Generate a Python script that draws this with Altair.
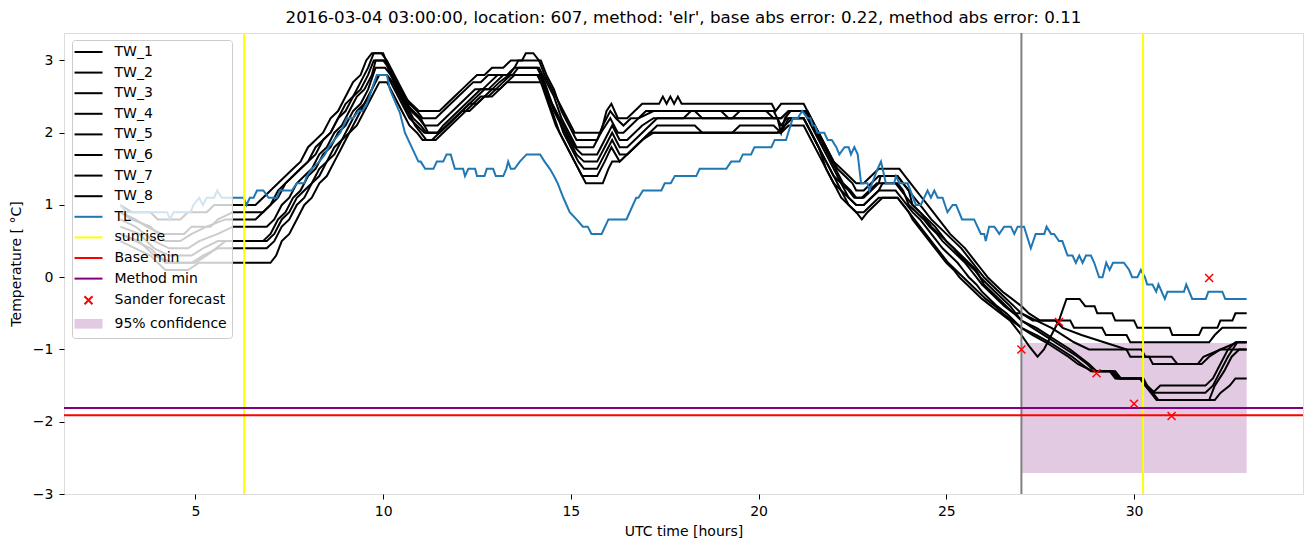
import altair as alt
import pandas as pd

TITLE = "2016-03-04 03:00:00, location: 607, method: 'elr', base abs error: 0.22, method abs error: 0.11"

TW_1 = [(3.0,1.0),(3.3,0.9),(3.8,0.9),(4.0,0.8),(4.6,0.8),(4.8,0.9),(5.3,0.9),(5.5,1.0),(6.6,1.0),(6.8,1.1),(7.0,1.2),(7.2,1.3),(7.4,1.4),(7.6,1.5),(7.8,1.6),(8.0,1.8),(8.2,1.9),(8.4,2.0),(8.6,2.2),(8.8,2.3),(9.0,2.5),(9.2,2.7),(9.4,2.8),(9.55,3.0),(9.7,3.1),(10.0,3.1),(10.15,2.9),(10.35,2.7),(10.55,2.5),(10.75,2.4),(10.95,2.3),(11.5,2.3),(11.7,2.4),(11.9,2.5),(12.1,2.6),(12.3,2.7),(12.5,2.8),(12.7,2.8),(12.9,2.9),(13.2,2.9),(13.4,3.0),(13.7,3.0),(13.8,3.1),(14.0,3.1),(14.15,3.0),(14.3,2.8),(14.5,2.6),(14.7,2.4),(14.9,2.2),(15.1,2.0),(15.8,2.0),(15.95,2.3),(16.08,2.4),(16.25,2.2),(16.5,2.2),(16.7,2.3),(16.9,2.4),(17.35,2.4),(17.45,2.5),(17.55,2.4),(17.65,2.5),(17.75,2.4),(17.85,2.5),(17.95,2.4),(20.35,2.4),(20.45,2.3),(20.6,2.4),(21.2,2.4),(21.4,2.2),(21.6,2.0),(21.8,1.8),(22.0,1.6),(22.2,1.5),(22.4,1.4),(22.6,1.3),(22.8,1.3),(23.0,1.4),(23.2,1.5),(23.75,1.5),(23.9,1.4),(24.05,1.3),(24.2,1.2),(24.35,1.1),(24.5,1.0),(24.65,0.9),(24.8,0.8),(24.95,0.7),(25.1,0.6),(25.3,0.5),(25.5,0.4),(25.65,0.3),(25.8,0.2),(25.95,0.1),(26.1,0.0),(26.3,-0.1),(26.5,-0.2),(26.75,-0.3),(27.0,-0.4),(27.2,-0.5),(27.5,-0.6),(28.3,-0.6),(28.4,-0.7),(29.15,-0.7),(29.25,-0.8),(29.8,-0.8),(29.9,-0.9),(32.0,-0.9),(32.15,-0.8),(32.35,-0.7),(33.0,-0.7)]

TW_2 = [(3.0,0.9),(3.4,0.8),(3.7,0.7),(4.1,0.6),(4.7,0.6),(4.9,0.7),(5.4,0.7),(5.6,0.8),(6.0,0.9),(6.8,0.9),(7.0,1.0),(7.2,1.1),(7.4,1.3),(7.6,1.4),(7.8,1.5),(8.0,1.6),(8.2,1.7),(8.4,1.9),(8.6,2.0),(8.8,2.2),(9.0,2.4),(9.2,2.5),(9.4,2.7),(9.6,2.9),(9.75,3.1),(9.95,3.1),(10.1,3.0),(10.3,2.8),(10.5,2.6),(10.7,2.4),(10.9,2.3),(11.05,2.2),(11.4,2.2),(11.6,2.3),(11.8,2.4),(12.0,2.5),(12.2,2.6),(12.4,2.7),(12.6,2.7),(12.8,2.8),(13.3,2.8),(13.5,2.9),(13.6,3.0),(14.2,3.0),(14.35,2.8),(14.55,2.6),(14.75,2.3),(14.95,2.1),(15.15,1.9),(15.7,1.9),(15.85,2.1),(16.05,2.3),(16.2,2.2),(16.4,2.1),(16.6,2.2),(16.8,2.2),(17.0,2.3),(20.4,2.3),(20.5,2.2),(20.6,2.0),(20.7,2.2),(20.85,2.3),(21.3,2.3),(21.5,2.1),(21.7,1.9),(21.9,1.7),(22.1,1.5),(22.3,1.4),(22.5,1.3),(22.6,1.2),(22.8,1.2),(23.0,1.3),(23.2,1.4),(23.7,1.4),(23.85,1.3),(24.0,1.2),(24.15,1.1),(24.3,1.0),(24.45,0.9),(24.6,0.8),(24.8,0.7),(25.0,0.6),(25.2,0.5),(25.4,0.4),(25.55,0.3),(25.7,0.2),(25.85,0.1),(26.0,0.0),(26.2,-0.1),(26.4,-0.2),(26.6,-0.3),(26.8,-0.4),(27.0,-0.5),(27.3,-0.6),(27.9,-0.6),(28.1,-0.7),(28.6,-0.8),(29.2,-0.9),(29.8,-1.0),(30.2,-1.0),(30.3,-1.1),(31.0,-1.1),(31.15,-1.2),(31.8,-1.2),(32.0,-1.1),(32.3,-1.0),(32.75,-0.9),(33.0,-0.9)]

TW_3 = [(3.0,0.9),(3.3,0.8),(3.8,0.7),(4.2,0.5),(4.6,0.5),(4.9,0.6),(5.3,0.7),(5.8,0.8),(6.6,0.8),(6.8,0.9),(7.0,1.0),(7.2,1.2),(7.4,1.3),(7.6,1.4),(7.8,1.5),(8.0,1.6),(8.2,1.8),(8.4,1.9),(8.6,2.0),(8.8,2.2),(9.0,2.3),(9.2,2.5),(9.4,2.6),(9.6,2.8),(9.75,3.0),(10.0,3.0),(10.15,2.9),(10.35,2.7),(10.55,2.5),(10.75,2.3),(10.95,2.2),(11.1,2.1),(11.45,2.1),(11.65,2.2),(11.85,2.3),(12.05,2.4),(12.25,2.5),(12.45,2.6),(12.65,2.6),(12.85,2.7),(13.05,2.8),(13.35,2.8),(13.5,2.9),(14.15,2.9),(14.35,2.7),(14.55,2.5),(14.75,2.2),(14.95,2.0),(15.15,1.8),(15.6,1.8),(15.8,2.0),(16.05,2.2),(16.25,2.0),(16.4,2.0),(16.6,2.1),(16.8,2.2),(17.2,2.3),(18.3,2.3),(18.5,2.2),(19.3,2.2),(19.5,2.3),(20.2,2.3),(20.4,2.2),(20.6,2.2),(20.8,2.3),(21.25,2.3),(21.45,2.1),(21.65,1.9),(21.85,1.7),(22.05,1.5),(22.25,1.3),(22.45,1.2),(22.6,1.1),(22.8,1.1),(23.0,1.2),(23.2,1.3),(23.25,1.4),(23.7,1.4),(23.85,1.3),(24.0,1.2),(24.1,1.0),(24.3,0.9),(24.5,0.8),(24.7,0.7),(24.85,0.6),(25.0,0.5),(25.2,0.4),(25.4,0.3),(25.6,0.2),(25.8,0.1),(26.0,-0.1),(26.2,-0.2),(26.4,-0.3),(26.6,-0.4),(26.8,-0.5),(27.0,-0.5),(27.4,-0.6),(27.8,-0.7),(28.1,-0.8),(28.4,-0.9),(28.8,-1.0),(29.8,-1.0),(29.9,-1.1),(30.4,-1.1),(30.5,-1.2),(31.7,-1.2),(31.85,-1.1),(32.3,-1.0),(33.0,-1.0)]

TW_4 = [(3.0,0.8),(3.4,0.7),(3.9,0.5),(4.3,0.4),(4.8,0.4),(5.1,0.5),(5.6,0.6),(6.0,0.7),(6.9,0.7),(7.1,0.8),(7.3,1.0),(7.5,1.1),(7.7,1.3),(7.9,1.4),(8.1,1.5),(8.3,1.7),(8.5,1.8),(8.7,2.0),(8.9,2.1),(9.1,2.3),(9.3,2.5),(9.5,2.6),(9.7,2.8),(9.8,3.0),(10.05,3.0),(10.2,2.8),(10.4,2.6),(10.6,2.4),(10.8,2.3),(11.0,2.2),(11.2,2.0),(11.45,2.0),(11.6,2.1),(11.8,2.2),(12.0,2.3),(12.2,2.4),(12.4,2.5),(12.6,2.6),(12.8,2.6),(13.0,2.7),(13.2,2.8),(13.45,2.8),(13.6,2.9),(14.1,2.9),(14.3,2.7),(14.5,2.4),(14.7,2.2),(14.9,2.0),(15.1,1.8),(15.3,1.7),(15.7,1.7),(15.9,1.9),(16.1,2.1),(16.3,1.9),(16.5,1.9),(16.7,2.0),(16.9,2.1),(17.2,2.2),(18.0,2.2),(18.2,2.3),(19.0,2.3),(19.2,2.2),(20.6,2.2),(20.8,2.3),(21.2,2.3),(21.4,2.1),(21.6,1.9),(21.8,1.7),(22.0,1.5),(22.2,1.3),(22.4,1.2),(22.55,1.1),(22.75,1.1),(22.95,1.2),(23.15,1.3),(23.65,1.3),(23.8,1.2),(23.95,1.1),(24.1,1.0),(24.3,0.9),(24.45,0.8),(24.6,0.7),(24.8,0.6),(25.0,0.5),(25.2,0.4),(25.35,0.3),(25.55,0.2),(25.75,0.1),(25.9,0.0),(26.1,-0.1),(26.3,-0.2),(26.5,-0.3),(26.7,-0.4),(26.85,-0.5),(27.0,-0.6),(27.3,-0.7),(27.6,-0.8),(27.9,-0.9),(28.2,-1.0),(28.5,-1.1),(28.75,-1.2),(28.95,-1.3),(29.45,-1.3),(29.6,-1.4),(30.2,-1.4),(30.35,-1.5),(30.55,-1.6),(31.9,-1.6),(32.1,-1.5),(32.3,-1.3),(32.5,-1.1),(32.75,-0.9),(33.0,-0.9)]

TW_5 = [(3.0,0.7),(3.5,0.6),(3.9,0.4),(4.3,0.3),(4.9,0.3),(5.2,0.4),(5.6,0.5),(6.8,0.5),(7.0,0.6),(7.2,0.8),(7.4,0.9),(7.6,1.1),(7.8,1.2),(8.0,1.4),(8.2,1.5),(8.4,1.7),(8.6,1.8),(8.8,2.0),(9.0,2.1),(9.2,2.3),(9.4,2.4),(9.6,2.6),(9.8,2.9),(10.05,2.9),(10.2,2.8),(10.4,2.6),(10.6,2.4),(10.8,2.2),(11.0,2.1),(11.15,2.0),(11.5,2.0),(11.7,2.1),(11.9,2.2),(12.1,2.3),(12.3,2.4),(12.5,2.5),(12.7,2.6),(12.9,2.6),(13.1,2.7),(13.35,2.8),(14.15,2.8),(14.35,2.6),(14.55,2.3),(14.75,2.1),(14.95,1.9),(15.15,1.7),(15.35,1.6),(15.7,1.6),(15.9,1.8),(16.1,2.0),(16.3,1.8),(16.5,1.8),(16.7,1.9),(16.9,2.0),(17.1,2.1),(17.3,2.2),(20.5,2.2),(20.6,2.1),(20.75,2.2),(21.2,2.2),(21.4,2.0),(21.6,1.8),(21.8,1.6),(22.0,1.4),(22.2,1.3),(22.4,1.1),(22.6,1.0),(22.8,1.0),(23.0,1.1),(23.2,1.2),(23.3,1.3),(23.7,1.3),(23.85,1.2),(24.0,1.0),(24.2,0.9),(24.4,0.8),(24.55,0.7),(24.75,0.6),(24.9,0.5),(25.1,0.4),(25.3,0.3),(25.5,0.2),(25.65,0.1),(25.8,0.0),(25.95,-0.1),(26.15,-0.2),(26.35,-0.3),(26.55,-0.4),(26.8,-0.5),(27.0,-0.6),(27.4,-0.7),(27.7,-0.8),(28.0,-0.9),(28.3,-1.0),(28.55,-1.1),(28.8,-1.2),(29.0,-1.3),(29.5,-1.3),(29.65,-1.4),(30.25,-1.4),(30.35,-1.5),(30.5,-1.6),(30.65,-1.7),(32.0,-1.7),(32.15,-1.5),(32.4,-1.3),(32.6,-1.1),(32.8,-1.0),(33.0,-1.0)]

TW_6 = [(3.0,0.6),(3.5,0.5),(3.9,0.3),(4.4,0.2),(5.0,0.2),(5.3,0.3),(5.8,0.5),(6.9,0.5),(7.1,0.6),(7.3,0.8),(7.5,0.9),(7.7,1.1),(7.9,1.2),(8.1,1.3),(8.3,1.5),(8.5,1.6),(8.7,1.8),(8.9,1.9),(9.1,2.1),(9.3,2.3),(9.5,2.4),(9.7,2.6),(9.85,2.8),(10.1,2.8),(10.25,2.7),(10.45,2.5),(10.65,2.3),(10.85,2.1),(11.0,2.0),(11.15,1.9),(11.4,1.9),(11.6,2.0),(11.8,2.1),(12.0,2.2),(12.2,2.3),(12.4,2.4),(12.6,2.5),(12.8,2.5),(13.0,2.6),(13.2,2.7),(13.4,2.8),(14.1,2.8),(14.3,2.6),(14.5,2.3),(14.7,2.0),(14.9,1.8),(15.1,1.6),(15.3,1.4),(15.7,1.4),(15.9,1.6),(16.08,1.8),(16.3,1.6),(16.5,1.7),(16.7,1.8),(16.9,1.9),(17.1,2.0),(17.3,2.1),(18.3,2.1),(18.5,2.0),(19.3,2.0),(19.5,2.1),(20.4,2.1),(20.6,2.0),(20.8,2.2),(21.2,2.2),(21.4,2.0),(21.6,1.8),(21.8,1.6),(22.0,1.4),(22.2,1.2),(22.4,1.1),(22.6,1.0),(22.8,1.0),(23.0,1.1),(23.2,1.2),(23.65,1.2),(23.8,1.1),(23.95,1.0),(24.1,0.9),(24.3,0.8),(24.45,0.7),(24.6,0.6),(24.75,0.5),(24.9,0.4),(25.1,0.3),(25.3,0.2),(25.45,0.1),(25.6,0.0),(25.8,-0.1),(25.95,-0.2),(26.15,-0.3),(26.35,-0.4),(26.6,-0.5),(26.8,-0.6),(27.0,-0.7),(27.4,-0.8),(27.75,-0.9),(28.05,-1.0),(28.35,-1.1),(28.6,-1.2),(28.85,-1.3),(29.4,-1.3),(29.55,-1.4),(30.2,-1.4),(30.3,-1.5),(30.45,-1.6),(30.6,-1.7),(32.15,-1.7),(32.3,-1.6),(32.55,-1.5),(32.7,-1.4),(33.0,-1.4)]

TW_7 = [(3.0,0.6),(3.4,0.5),(3.8,0.4),(4.2,0.2),(4.9,0.2),(5.2,0.3),(5.6,0.4),(6.9,0.4),(7.1,0.5),(7.3,0.7),(7.5,0.8),(7.7,1.0),(7.9,1.1),(8.1,1.3),(8.3,1.4),(8.5,1.6),(8.7,1.7),(8.9,1.9),(9.1,2.0),(9.3,2.2),(9.5,2.4),(9.7,2.6),(9.9,2.8),(10.1,2.8),(10.3,2.6),(10.5,2.4),(10.7,2.2),(10.9,2.1),(11.1,2.0),(11.5,2.0),(11.7,2.1),(11.9,2.2),(12.1,2.3),(12.3,2.4),(12.5,2.4),(12.7,2.5),(12.9,2.6),(13.1,2.6),(13.3,2.7),(13.5,2.8),(14.2,2.8),(14.4,2.5),(14.6,2.3),(14.8,2.0),(15.0,1.8),(15.2,1.6),(15.35,1.5),(15.7,1.5),(15.9,1.7),(16.1,1.9),(16.3,1.7),(16.5,1.7),(16.7,1.8),(16.9,1.9),(17.1,2.0),(20.5,2.0),(20.7,2.1),(20.9,2.2),(21.2,2.2),(21.4,2.0),(21.6,1.8),(21.8,1.5),(22.0,1.3),(22.2,1.2),(22.4,1.0),(22.6,0.9),(22.75,0.8),(22.9,0.9),(23.1,1.0),(23.3,1.1),(23.7,1.1),(23.85,1.0),(24.0,0.9),(24.15,0.8),(24.3,0.7),(24.45,0.6),(24.6,0.5),(24.75,0.4),(24.9,0.3),(25.05,0.2),(25.25,0.1),(25.45,0.0),(25.65,-0.1),(25.85,-0.2),(26.05,-0.3),(26.3,-0.4),(26.5,-0.5),(26.75,-0.6),(27.0,-0.7),(27.3,-0.8),(27.65,-0.9),(27.95,-1.0),(28.25,-1.1),(28.5,-1.2),(28.9,-1.3),(29.35,-1.3),(29.5,-1.4),(30.15,-1.4),(30.3,-1.5),(30.5,-1.6),(30.7,-1.5),(31.9,-1.5),(32.1,-1.4),(32.3,-1.2),(32.5,-1.0),(32.7,-0.9),(33.0,-0.9)]

TW_8 = [(3.0,0.5),(3.4,0.4),(3.8,0.3),(4.2,0.1),(4.8,0.1),(5.1,0.2),(7.0,0.2),(7.15,0.3),(7.3,0.5),(7.5,0.6),(7.7,0.8),(7.9,1.0),(8.1,1.1),(8.3,1.3),(8.5,1.4),(8.7,1.6),(8.9,1.8),(9.1,2.0),(9.3,2.1),(9.5,2.3),(9.7,2.5),(9.9,2.7),(10.1,2.7),(10.3,2.5),(10.5,2.3),(10.7,2.1),(10.9,2.0),(11.05,1.9),(11.3,1.9),(11.5,2.0),(11.7,2.1),(11.9,2.2),(12.1,2.3),(12.3,2.3),(12.5,2.4),(12.7,2.5),(12.9,2.5),(13.1,2.6),(13.3,2.7),(14.2,2.7),(14.4,2.4),(14.6,2.1),(14.8,1.9),(15.0,1.7),(15.2,1.5),(15.4,1.3),(15.85,1.3),(16.0,1.5),(16.1,1.6),(16.3,1.6),(16.5,1.7),(16.7,1.8),(16.9,1.9),(17.2,2.0),(20.6,2.0),(20.8,2.1),(21.2,2.1),(21.4,1.9),(21.6,1.7),(21.8,1.5),(22.0,1.3),(22.2,1.1),(22.4,1.0),(22.6,0.9),(22.8,0.9),(23.0,1.0),(23.2,1.1),(23.7,1.1),(23.85,1.0),(24.0,0.9),(24.1,0.8),(24.25,0.7),(24.4,0.6),(24.55,0.5),(24.7,0.4),(24.85,0.3),(25.0,0.2),(25.2,0.1),(25.35,0.0),(25.55,-0.1),(25.75,-0.2),(25.95,-0.3),(26.2,-0.4),(26.45,-0.5),(26.7,-0.6),(26.85,-0.7),(27.0,-0.8),(27.2,-0.95),(27.43,-1.1),(27.6,-1.0),(27.8,-0.8),(28.0,-0.6),(28.2,-0.3),(28.55,-0.3),(28.7,-0.4),(28.95,-0.4),(29.02,-0.5),(29.42,-0.5),(29.5,-0.6),(30.0,-0.6),(30.09,-0.7),(30.95,-0.7),(31.02,-0.8),(31.73,-0.8),(31.82,-0.7),(32.22,-0.7),(32.3,-0.6),(32.62,-0.6),(32.7,-0.5),(33.0,-0.5)]

TL = [(3.0,1.0),(3.15,0.9),(4.25,0.9),(4.32,0.8),(4.42,0.9),(4.87,0.9),(4.95,1.0),(5.1,1.1),(5.2,1.0),(5.3,1.1),(5.5,1.1),(5.58,1.2),(5.7,1.1),(6.28,1.1),(6.36,1.0),(6.45,1.1),(6.55,1.1),(6.64,1.2),(6.81,1.2),(6.95,1.1),(7.17,1.1),(7.25,1.2),(7.57,1.2),(7.7,1.3),(7.9,1.3),(7.97,1.4),(8.1,1.5),(8.3,1.6),(8.45,1.7),(8.55,1.8),(8.7,1.9),(8.86,2.0),(9.03,2.2),(9.2,2.2),(9.34,2.3),(9.45,2.3),(9.57,2.4),(9.7,2.6),(9.83,2.8),(10.1,2.8),(10.18,2.6),(10.3,2.45),(10.45,2.27),(10.58,2.0),(10.76,1.8),(10.94,1.6),(11.0,1.6),(11.12,1.5),(11.34,1.5),(11.43,1.6),(11.6,1.6),(11.69,1.7),(11.8,1.7),(11.91,1.5),(12.13,1.5),(12.18,1.4),(12.27,1.5),(12.45,1.5),(12.5,1.4),(12.7,1.4),(12.76,1.5),(12.93,1.5),(13.0,1.4),(13.2,1.4),(13.28,1.5),(13.33,1.6),(13.4,1.5),(13.5,1.5),(13.64,1.6),(13.82,1.7),(14.18,1.7),(14.3,1.6),(14.44,1.5),(14.55,1.4),(14.65,1.3),(14.8,1.1),(14.97,0.9),(15.15,0.8),(15.32,0.7),(15.45,0.7),(15.55,0.6),(15.82,0.6),(16.0,0.8),(16.48,0.8),(16.74,1.1),(16.8,1.1),(16.92,1.2),(17.41,1.2),(17.5,1.3),(17.66,1.3),(17.77,1.4),(18.34,1.4),(18.43,1.5),(19.14,1.5),(19.27,1.6),(19.49,1.6),(19.58,1.7),(19.8,1.7),(19.89,1.8),(20.34,1.8),(20.43,1.9),(20.73,1.9),(20.91,2.2),(21.04,2.2),(21.16,2.3),(21.31,2.2),(21.38,2.2),(21.44,2.1),(21.5,2.1),(21.57,2.0),(21.75,2.0),(21.84,1.9),(21.95,1.9),(22.07,1.8),(22.15,1.7),(22.29,1.8),(22.4,1.8),(22.46,1.7),(22.55,1.8),(22.64,1.7),(22.73,1.3),(22.9,1.3),(22.95,1.2),(23.17,1.5),(23.26,1.6),(23.39,1.3),(23.61,1.3),(23.66,1.4),(23.75,1.3),(23.97,1.3),(24.19,1.0),(24.32,1.0),(24.5,1.2),(24.59,1.1),(24.68,1.2),(24.77,1.1),(24.9,1.1),(25.03,0.9),(25.17,1.0),(25.26,1.0),(25.42,0.8),(25.74,0.8),(25.92,0.6),(26.01,0.6),(26.05,0.5),(26.14,0.7),(26.28,0.7),(26.41,0.6),(26.54,0.7),(26.72,0.7),(26.81,0.6),(26.9,0.7),(27.07,0.7),(27.25,0.4),(27.38,0.6),(27.61,0.6),(27.67,0.7),(27.79,0.6),(27.87,0.6),(28.0,0.5),(28.09,0.5),(28.23,0.3),(28.36,0.3),(28.45,0.2),(28.54,0.3),(28.63,0.2),(28.72,0.3),(28.85,0.3),(28.94,0.2),(29.07,0.0),(29.16,0.0),(29.26,0.2),(29.35,0.1),(29.44,0.2),(29.73,0.2),(29.87,0.1),(29.95,0.0),(30.09,0.0),(30.18,0.1),(30.29,0.0),(30.35,-0.1),(30.49,-0.1),(30.59,-0.2),(30.65,-0.1),(30.82,-0.3),(30.89,-0.2),(31.33,-0.2),(31.39,-0.1),(31.55,-0.3),(31.91,-0.3),(31.98,-0.2),(32.35,-0.2),(32.43,-0.3),(33.0,-0.3)]

SUNRISE_HOURS = [6.30, 30.24]
FORECAST_START = [27.0]
BASE_MIN = -1.91
METHOD_MIN = -1.81
SANDER_HOURS = [27, 28, 29, 30, 31, 32]
SANDER_TEMPS = [-1.00, -0.62, -1.33, -1.75, -1.92, -0.01]
CONF_HOURS = [27.0, 33.0]
CONF_TEMPS = [-2.71, -0.91]

SERIES = ["TW_1", "TW_2", "TW_3", "TW_4", "TW_5", "TW_6", "TW_7", "TW_8", "TL",
          "sunrise", "Base min", "Method min", "Sander forecast", "95% confidence"]
COLORS = ["#000000"] * 8 + ["#1f77b4", "#ffff00", "#ff0000", "#800080", "#ff0000", "#e2cbe2"]

FONT = "DejaVu Sans"

# ---------- tables ----------
tw_rows = []
for name, pts in zip(SERIES[:8], [TW_1, TW_2, TW_3, TW_4, TW_5, TW_6, TW_7, TW_8]):
    for h, t in pts:
        tw_rows.append({"series": name, "hour": h, "temp": t})
tw_df = pd.DataFrame(tw_rows)
tl_df = pd.DataFrame([{"series": "TL", "hour": h, "temp": t} for h, t in TL])
sun_df = pd.DataFrame({"series": ["sunrise"] * len(SUNRISE_HOURS), "hour": SUNRISE_HOURS})
start_df = pd.DataFrame({"hour": FORECAST_START})
min_df = pd.DataFrame({"series": ["Base min", "Method min"], "temp": [BASE_MIN, METHOD_MIN]})
pts_df = pd.DataFrame({"series": ["Sander forecast"] * len(SANDER_HOURS), "hour": SANDER_HOURS, "temp": SANDER_TEMPS})
conf_df = pd.DataFrame({"series": ["95% confidence"], "hour": [CONF_HOURS[0]], "hour2": [CONF_HOURS[1]],
                        "temp": [CONF_TEMPS[0]], "temp2": [CONF_TEMPS[1]]})

# ---------- scales / axes / legend ----------
xscale = alt.Scale(domain=[1.5, 34.5], nice=False, zero=False)
yscale = alt.Scale(domain=[-3.0, 3.38], nice=False, zero=False)

common_axis = dict(grid=False, domain=False, tickColor="black", tickSize=5, tickWidth=1,
                   labelFont=FONT, labelFontSize=14, labelColor="black",
                   titleFont=FONT, titleFontSize=14, titleFontWeight="normal", titleColor="black",
                   labelFlush=False, labelOverlap=False)
xaxis = alt.Axis(values=[5, 10, 15, 20, 25, 30], format="d", title="UTC time [hours]",
                 labelPadding=5, titlePadding=6, **common_axis)
yaxis = alt.Axis(values=[-3, -2, -1, 0, 1, 2, 3], format="d", title="Temperature [ \u00b0C]",
                 labelExpr="replace(datum.label, '-', '\u2212')",
                 labelPadding=6, titlePadding=9, **common_axis)

LINE_PATH = "M-2.8,0L2.8,0"
CROSS_PATH = "M-0.8,-0.8L0.8,0.8M-0.8,0.8L0.8,-0.8"
RECT_PATH = "M-2.8,-0.97L2.8,-0.97L2.8,0.97L-2.8,0.97Z"
SHAPES = [LINE_PATH] * 12 + [CROSS_PATH, RECT_PATH]
STROKES = COLORS[:-1] + ["transparent"]

legend = alt.Legend(
    title=None, orient="none", legendX=8, legendY=7, direction="vertical", columns=1,
    fillColor="rgba(255,255,255,0.8)", strokeColor="#cccccc", cornerRadius=3,
    padding=5, rowPadding=6.6, labelFont=FONT, labelFontSize=14, labelColor="black", labelLimit=0,
    labelOffset=19, symbolOffset=4.5, symbolSize=100, symbolStrokeWidth=2, symbolOpacity=1,
)

# colour scale for the drawn marks (domain listed in reverse so it is kept apart from the legend scales)
color = alt.Color("series:N", scale=alt.Scale(domain=SERIES[::-1], range=COLORS[::-1]), legend=None)
X = alt.X("hour:Q", scale=xscale, axis=xaxis)
Y = alt.Y("temp:Q", scale=yscale, axis=yaxis)

conf = alt.Chart(conf_df).mark_rect(opacity=1).encode(x=X, x2="hour2:Q", y=Y, y2="temp2:Q", color=color)
tw = alt.Chart(tw_df).mark_line(strokeWidth=2).encode(x=X, y=Y, color=color, detail="series:N")
tl = alt.Chart(tl_df).mark_line(strokeWidth=2).encode(x=X, y=Y, color=color)
sun = alt.Chart(sun_df).mark_rule(strokeWidth=2).encode(x=X, color=color)
start = alt.Chart(start_df).mark_rule(strokeWidth=2, color="#808080").encode(x=X)
mins = alt.Chart(min_df).mark_rule(strokeWidth=2).encode(y=Y, color=color)
pts = alt.Chart(pts_df).mark_point(size=100, strokeWidth=1.5, filled=True, opacity=1).encode(
    x=X, y=Y,
    fill=alt.Fill("series:N", scale=alt.Scale(domain=SERIES, range=COLORS), legend=legend),
    stroke=alt.Stroke("series:N", scale=alt.Scale(domain=SERIES, range=STROKES), legend=legend),
    shape=alt.Shape("series:N", scale=alt.Scale(domain=SERIES, range=SHAPES), legend=legend),
)

chart = alt.layer(conf, tw, tl, sun, start, mins, pts).properties(
    width=1239, height=461,
    title=alt.Title(TITLE, font=FONT, fontSize=16.7, fontWeight="normal", color="black",
                    anchor="middle", frame="group", offset=5, baseline="top"),
    padding={"left": 64, "top": 33, "right": 10, "bottom": 53},
    autosize=alt.AutoSizeParams(type="none"),
).configure_view(stroke="black", strokeWidth=1).configure(font=FONT, background="white")

chart.save("out.html", embed_options={"renderer": "svg", "actions": False})
